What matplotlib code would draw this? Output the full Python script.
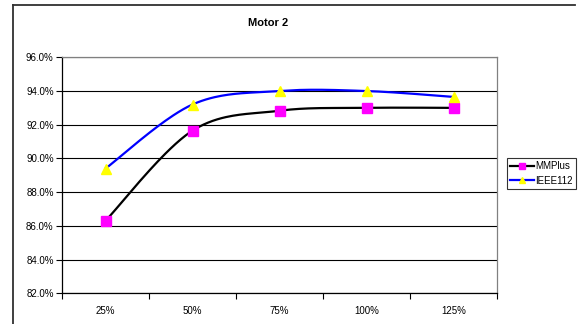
import numpy as np
import matplotlib
matplotlib.use("Agg")
import matplotlib.pyplot as plt
from matplotlib.lines import Line2D
from matplotlib.ticker import FuncFormatter, FixedLocator

plt.rcParams["font.family"] = ["Liberation Sans", "DejaVu Sans"]

# data
loads = ["25%", "50%", "75%", "100%", "125%"]
mmplus = [86.3, 91.65, 92.83, 93.0, 93.0]
ieee112 = [89.4, 93.2, 94.0, 94.0, 93.65]


def smooth(xs, ys, n=40):
    """Catmull-Rom spline through the points, like Excel's smoothed line."""
    xs = np.asarray(xs, float)
    ys = np.asarray(ys, float)
    px = np.concatenate([[xs[0]], xs, [xs[-1]]])
    py = np.concatenate([[ys[0]], ys, [ys[-1]]])
    ox, oy = [], []
    t = np.linspace(0, 1, n)
    for i in range(1, len(px) - 2):
        for arr, out in ((px, ox), (py, oy)):
            p0, p1, p2, p3 = arr[i - 1], arr[i], arr[i + 1], arr[i + 2]
            out.extend(0.5 * ((2 * p1) + (-p0 + p2) * t
                              + (2 * p0 - 5 * p1 + 4 * p2 - p3) * t ** 2
                              + (-p0 + 3 * p1 - 3 * p2 + p3) * t ** 3))
    return ox, oy


W, H = 579, 324
fig = plt.figure(figsize=(W / 100, H / 100), dpi=100)
fig.patch.set_facecolor("white")

# outer chart frame: only the left and top edges are inside the picture
fx0, fy0, fx1 = 12.5 / W, 1 - 4.5 / H, 575 / W
fig.add_artist(Line2D([fx0, fx0], [0, fy0], transform=fig.transFigure,
                      color="#303030", linewidth=1.3))
fig.add_artist(Line2D([fx0, fx1], [fy0, fy0], transform=fig.transFigure,
                      color="#303030", linewidth=1.3))

ax = fig.add_axes([62 / W, 1 - 293.3 / H, 435 / W, 236 / H])
x = np.arange(len(loads))

for vals, color, marker, mfc, ms, name in (
    (mmplus, "black", "s", "#ff00ff", 6.5, "MMPlus"),
    (ieee112, "#0000ff", "^", "#ffff00", 7.5, "IEEE112"),
):
    sx, sy = smooth(x, vals)
    ax.plot(sx, sy, color=color, linewidth=1.6, zorder=3)
    ax.plot(x, vals, linestyle="none", marker=marker, markersize=ms,
            markerfacecolor=mfc, markeredgecolor=mfc, zorder=4)
    ax.plot([], [], color=color, linewidth=1.6, marker=marker, markersize=5,
            markerfacecolor=mfc, markeredgecolor=mfc, label=name)

ax.set_xlim(-0.5, len(loads) - 0.5)
ax.set_ylim(82, 96)
ax.set_yticks(np.arange(82, 96.1, 2))
ax.yaxis.set_major_formatter(FuncFormatter(lambda v, p: f"{v:.1f}%"))
ax.grid(axis="y", color="black", linewidth=0.8)
ax.set_axisbelow(True)

ax.set_xticks(x)
ax.set_xticklabels(loads)
ax.xaxis.set_minor_locator(FixedLocator(np.arange(-0.5, len(loads), 1.0)))
ax.tick_params(axis="x", which="major", length=0, pad=9, labelsize=7)
ax.tick_params(axis="x", which="minor", length=4, direction="out", width=0.8)
ax.tick_params(axis="y", length=4, width=0.8, direction="out", labelsize=7, pad=2)

for side in ("left", "bottom"):
    ax.spines[side].set_color("black")
    ax.spines[side].set_linewidth(0.9)
for side in ("top", "right"):
    ax.spines[side].set_color("#808080")
    ax.spines[side].set_linewidth(0.9)

fig.text(268 / W, 1 - 23 / H, "Motor 2", ha="center", va="center",
         fontsize=8, fontweight="bold")

leg = fig.legend(loc="upper left", bbox_to_anchor=(507 / W, 1 - 158 / H),
                 fontsize=7, frameon=True, fancybox=False, handlelength=2.5,
                 handletextpad=0.1, borderpad=0.3, labelspacing=0.5,
                 borderaxespad=0)
leg.get_frame().set_edgecolor("black")
leg.get_frame().set_linewidth(0.8)

fig.savefig("out.png", dpi=100)
